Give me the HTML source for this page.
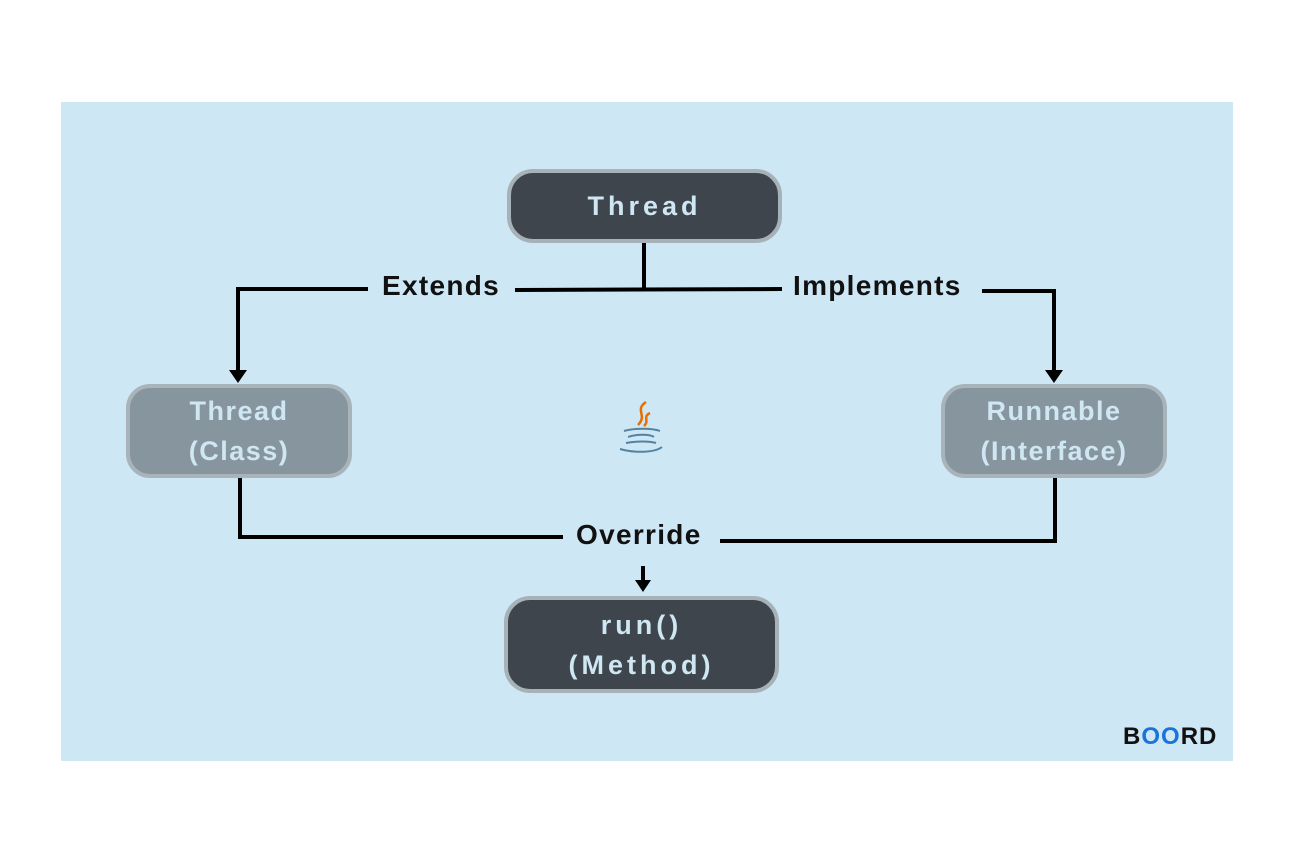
<!DOCTYPE html>
<html><head><style>
body{margin:0;width:1296px;height:864px;background:#fff;position:relative;font-family:"Liberation Sans",sans-serif;overflow:hidden}
.panel{position:absolute;left:61px;top:102px;width:1172px;height:659px;background:#cde7f5}
.box{position:absolute;box-sizing:border-box;border:4px solid #a7b1b8;display:flex;align-items:center;justify-content:center;text-align:center;font-weight:bold;color:#cfe6f3;font-size:27px;line-height:40px}
.dark{background:#3e454c;border-radius:26px;letter-spacing:4px}
.light{background:#87959f;border-radius:24px;border-color:#a8b3ba;letter-spacing:1.5px}
.lbl{position:absolute;font-weight:bold;font-size:28px;color:#111;line-height:30px;letter-spacing:1.3px}
</style></head><body>
<div class="panel"></div>
<svg width="1296" height="864" style="position:absolute;left:0;top:0">
<g stroke="#000" stroke-width="4" fill="none">
<path d="M644 242 V290"/>
<path d="M515 290 L782 289"/>
<path d="M368 289 H238 V372"/>
<path d="M982 291 H1054 V372"/>
<path d="M240 478 V537 H563"/>
<path d="M720 541 L1055 541 V478"/>
<path d="M643 566 V586"/>
</g>
<g fill="#000">
<path d="M229 370 L247 370 L238 383 Z"/>
<path d="M1045 370 L1063 370 L1054 383 Z"/>
<path d="M635 580 L651 580 L643 592 Z"/>
</g>
<g fill="none" stroke="#e76f00" stroke-width="2.5">
<path d="M646 402 C634 410 648 415 638 425"/>
<path d="M650 413 C642 417 650 421 644 426"/>
</g>
<g fill="none" stroke="#5382a1" stroke-width="2">
<path d="M624 431 C634 428 652 428 660 431"/>
<path d="M628 437 C636 434 650 434 654 437"/>
<path d="M626 443 C636 441 650 441 656 443"/>
<path d="M620 449 C634 453 654 453 662 447"/>
</g>
</svg>
<div class="box dark" style="left:507px;top:169px;width:275px;height:74px">Thread</div>
<div class="box light" style="left:126px;top:384px;width:226px;height:94px">Thread<br>(Class)</div>
<div class="box light" style="left:941px;top:384px;width:226px;height:94px">Runnable<br>(Interface)</div>
<div class="box dark" style="left:504px;top:596px;width:275px;height:97px">run()<br>(Method)</div>
<div class="lbl" style="left:382px;top:271px">Extends</div>
<div class="lbl" style="left:793px;top:271px">Implements</div>
<div class="lbl" style="left:576px;top:520px">Override</div>
<div class="lbl" style="left:1123px;top:722px;font-size:24px;letter-spacing:1px">B<span style="color:#1a73d9">OO</span>RD</div>
</body></html>
